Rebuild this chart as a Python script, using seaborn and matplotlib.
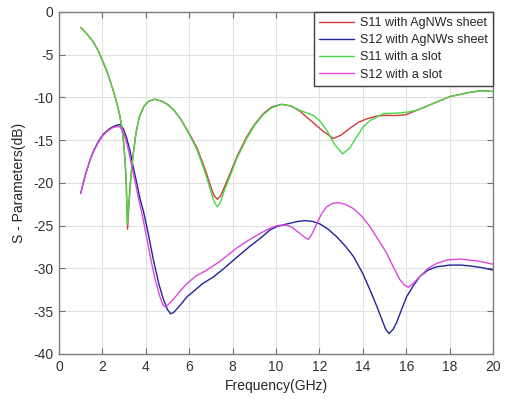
import numpy as np
import pandas as pd
import matplotlib
matplotlib.use("Agg")
import matplotlib.pyplot as plt
import seaborn as sns

# ---- S11 with AgNWs sheet ----
f_s11_ag = [1.0, 1.3, 1.58, 1.8, 2.04, 2.2, 2.35, 2.5, 2.6, 2.7, 2.8, 2.9, 2.98, 3.05, 3.1, 3.16,
            3.22, 3.3, 3.42, 3.55, 3.7, 3.9, 4.1, 4.4, 4.7, 5.0, 5.3, 5.6, 6.0, 6.34, 6.6, 6.8,
            7.0, 7.15, 7.3, 7.45, 7.6, 7.88, 8.2, 8.65, 9.0, 9.41, 9.8, 10.26, 10.7, 11.1, 11.6,
            12.1, 12.64, 13.0, 13.41, 13.8, 14.18, 14.6, 14.95, 15.6, 16.0, 16.48, 17.25, 18.0,
            18.94, 19.5, 20.0]
s11_ag = [-1.8, -2.6, -3.5, -4.5, -5.9, -6.9, -8.0, -9.2, -10.1, -11.0, -12.1, -13.6, -15.3, -17.6, -20.2, -25.4,
          -22.4, -19.6, -16.6, -14.1, -12.3, -11.1, -10.5, -10.2, -10.4, -10.8, -11.5, -12.5, -14.2, -15.8, -17.5, -18.9,
          -20.5, -21.5, -21.9, -21.5, -20.6, -18.9, -16.9, -14.6, -13.2, -11.9, -11.1, -10.8, -11.0, -11.6, -12.7,
          -13.8, -14.8, -14.4, -13.6, -12.9, -12.5, -12.2, -12.1, -12.1, -12.0, -11.5, -10.7, -9.9,
          -9.4, -9.2, -9.3]

# ---- S12 with AgNWs sheet ----
f_s12_ag = [1.0, 1.2, 1.43, 1.6, 1.8, 2.04, 2.3, 2.5, 2.7, 2.81, 2.95, 3.1, 3.27, 3.42, 3.58, 3.73,
            3.89, 4.12, 4.35, 4.6, 4.81, 5.0, 5.14, 5.3, 5.58, 5.9, 6.19, 6.6, 7.11, 7.6, 8.19,
            8.8, 9.26, 9.72, 10.03, 10.49, 11.0, 11.34, 11.7, 12.03, 12.4, 12.8, 13.2, 13.57,
            14.0, 14.33, 14.64, 14.87, 15.05, 15.21, 15.4, 15.56, 15.8, 16.02, 16.33, 16.64,
            17.0, 17.4, 18.02, 18.5, 18.94, 19.5, 20.0]
s12_ag = [-21.2, -19.2, -17.3, -16.2, -15.2, -14.3, -13.7, -13.4, -13.2, -13.2, -13.6, -14.6, -16.2, -18.1, -20.0, -21.8,
          -23.3, -26.0, -29.0, -31.8, -33.6, -34.8, -35.3, -35.1, -34.3, -33.3, -32.7, -31.8, -31.0, -30.0, -28.7,
          -27.4, -26.5, -25.5, -25.1, -24.8, -24.5, -24.4, -24.5, -24.8, -25.4, -26.3, -27.4, -28.6,
          -30.6, -32.5, -34.4, -35.9, -37.1, -37.6, -37.1, -36.3, -34.7, -33.3, -32.0, -30.9,
          -30.2, -29.8, -29.6, -29.6, -29.7, -29.9, -30.2]

# ---- S11 with a slot ----
f_s11_slot = [1.0, 1.3, 1.58, 1.8, 2.04, 2.2, 2.35, 2.5, 2.6, 2.7, 2.8, 2.9, 2.98, 3.05, 3.1, 3.15,
              3.22, 3.3, 3.42, 3.55, 3.7, 3.9, 4.1, 4.4, 4.7, 5.0, 5.3, 5.6, 6.0, 6.34, 6.6, 6.8,
              7.0, 7.15, 7.3, 7.45, 7.6, 7.88, 8.2, 8.65, 9.0, 9.41, 9.8, 10.26, 10.7, 11.1, 11.72,
              12.0, 12.33, 12.7, 13.07, 13.4, 13.72, 14.0, 14.33, 14.95, 15.71, 16.1, 16.48, 17.25,
              18.0, 18.94, 19.5, 20.0]
s11_slot = [-1.8, -2.6, -3.5, -4.5, -5.9, -6.9, -8.0, -9.2, -10.1, -11.0, -12.1, -13.6, -15.3, -17.6, -20.2, -24.8,
            -22.6, -19.7, -16.7, -14.1, -12.3, -11.1, -10.5, -10.2, -10.4, -10.8, -11.5, -12.5, -14.3, -16.0, -17.8, -19.3,
            -21.0, -22.2, -22.8, -22.2, -21.0, -19.2, -17.1, -14.8, -13.3, -12.0, -11.2, -10.8, -11.0, -11.5, -12.1,
            -12.7, -13.8, -15.5, -16.6, -15.9, -14.6, -13.5, -12.7, -11.9, -11.8, -11.7, -11.5, -10.7,
            -9.9, -9.4, -9.2, -9.3]

# ---- S12 with a slot ----
f_s12_slot = [1.0, 1.2, 1.43, 1.6, 1.8, 2.04, 2.3, 2.5, 2.7, 2.78, 2.92, 3.05, 3.2, 3.37, 3.52, 3.68,
              3.85, 4.05, 4.19, 4.4, 4.65, 4.8, 4.88, 5.0, 5.27, 5.6, 5.88, 6.3, 6.8, 7.4, 8.19,
              8.8, 9.26, 9.72, 10.03, 10.34, 10.6, 10.8, 11.1, 11.35, 11.49, 11.65, 11.87, 12.1,
              12.33, 12.6, 12.87, 13.2, 13.57, 13.95, 14.33, 14.7, 15.1, 15.4, 15.71, 15.9, 16.1,
              16.3, 16.64, 17.0, 17.4, 17.9, 18.48, 19.25, 20.0]
s12_slot = [-21.2, -19.2, -17.3, -16.3, -15.3, -14.4, -13.8, -13.5, -13.4, -13.4, -13.8, -14.7, -16.2, -18.2, -20.0, -22.0,
            -23.9, -26.5, -28.4, -31.0, -33.3, -34.3, -34.5, -34.3, -33.6, -32.6, -31.8, -30.9, -30.2, -29.2, -27.6,
            -26.6, -25.9, -25.3, -25.0, -24.9, -25.0, -25.3, -25.9, -26.4, -26.6, -26.0, -24.8, -23.6,
            -22.8, -22.4, -22.3, -22.5, -23.0, -23.9, -25.1, -26.6, -28.2, -29.8, -31.3, -31.9, -32.2,
            -31.8, -30.9, -30.0, -29.4, -29.0, -28.9, -29.1, -29.5]

series_names = ["S11 with AgNWs sheet", "S12 with AgNWs sheet", "S11 with a slot", "S12 with a slot"]
series_colors = ["#d23a3a", "#22229a", "#45d845", "#dc48dc"]

frames = []
for name, f, v in zip(series_names,
                      [f_s11_ag, f_s12_ag, f_s11_slot, f_s12_slot],
                      [s11_ag, s12_ag, s11_slot, s12_slot]):
    frames.append(pd.DataFrame({"freq": f, "db": v, "series": name}))
df = pd.concat(frames, ignore_index=True)

sns.set_theme(style="whitegrid")
plt.rcParams["font.family"] = ["Liberation Sans", "DejaVu Sans"]
plt.rcParams["axes.unicode_minus"] = False

fig = plt.figure(figsize=(5.10, 3.99), dpi=100)
ax = fig.add_axes([0.1157, 0.1128, 0.8510, 0.8572])

sns.lineplot(data=df, x="freq", y="db", hue="series", hue_order=series_names,
             palette=series_colors, sort=False, estimator=None, linewidth=1.0, ax=ax)

ax.set_xlim(0, 20)
ax.set_ylim(-40, 0)
ax.set_xticks(np.arange(0, 21, 2))
ax.set_yticks(np.arange(-40, 1, 5))
ax.set_xlabel("Frequency(GHz)", fontsize=10, color="#262626", labelpad=4)
ax.set_ylabel("S - Parameters(dB)", fontsize=10, color="#262626", labelpad=5)

ax.set_facecolor("white")
ax.grid(True, color="#e0e0e0", linewidth=0.8)
for side in ["left", "right", "top", "bottom"]:
    ax.spines[side].set_visible(True)
    ax.spines[side].set_color("#7f7f7f")
    ax.spines[side].set_linewidth(1.0)
ax.tick_params(axis="both", which="both", direction="in", length=4, width=0.8,
               color="#6f6f6f", labelsize=10, labelcolor="#333333",
               top=True, right=True, bottom=True, left=True, pad=4)

leg = ax.legend(loc="upper right", fontsize=9, frameon=True, fancybox=False,
                borderaxespad=0.0, handlelength=2.8, handletextpad=0.5,
                labelspacing=0.42, borderpad=0.4)
leg.get_frame().set_edgecolor("#404040")
leg.get_frame().set_linewidth(1.0)
leg.get_frame().set_alpha(1.0)
leg.set_title(None)

fig.savefig("out.png", dpi=100)
